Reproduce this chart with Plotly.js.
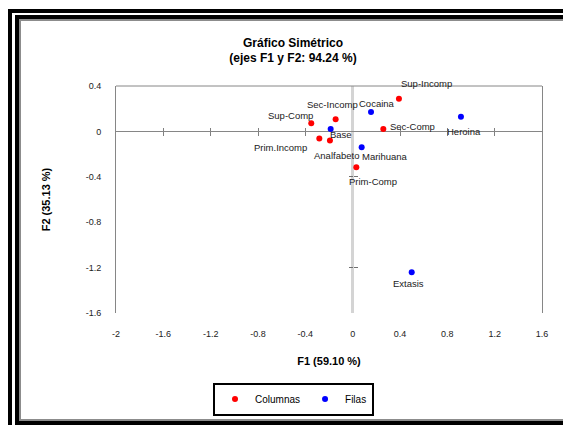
<!DOCTYPE html>
<html>
<head>
<meta charset="utf-8">
<script src="https://cdn.plot.ly/plotly-3.0.1.min.js"></script>
<style>
html,body{margin:0;padding:0;background:#fff;overflow:hidden;width:563px;height:425px;}
#f1{position:absolute;left:8px;top:9px;width:1000px;height:1000px;border-left:4px solid #000;border-top:4px solid #000;}
#f2{position:absolute;left:15px;top:15px;width:1000px;height:402px;border-left:4px solid #000;border-top:4px solid #000;border-bottom:4px solid #000;}
#f3{position:absolute;left:19px;top:19px;width:1000px;height:398px;border-left:2px solid #8c8c8c;border-top:2px solid #8c8c8c;border-bottom:2px solid #8c8c8c;}
#chart{position:absolute;left:0;top:0;width:563px;height:425px;}
</style>
</head>
<body>
<div id="f1"></div>
<div id="f2"></div>
<div id="f3"></div>
<div id="chart"></div>
<script>
// ---- Data ----
var colLabels = ['Sup-Incomp','Sec-Incomp','Sup-Comp','Sec-Comp','Prim.Incomp','Analfabeto','Prim-Comp'];
var colF1 = [0.391, -0.144, -0.350, 0.259, -0.282, -0.192, 0.031];
var colF2 = [0.287, 0.108, 0.072, 0.022, -0.063, -0.081, -0.316];

var rowLabels = ['Cocaina','Base','Heroina','Marihuana','Extasis'];
var rowF1 = [0.155, -0.186, 0.915, 0.076, 0.499];
var rowF2 = [0.172, 0.022, 0.128, -0.139, -1.242];

var xTickVals = [-2, -1.6, -1.2, -0.8, -0.4, 0, 0.4, 0.8, 1.2, 1.6];
var xTickText = ['-2','-1.6','-1.2','-0.8','-0.4','0','0.4','0.8','1.2','1.6'];
var yTickVals = [0.4, 0, -0.4, -0.8, -1.2, -1.6];
var yTickText = ['0.4','0','-0.4','-0.8','-1.2','-1.6'];

// ---- Styles (label offsets in px) ----
var colDx = [28, -3, -20.5, 29, -39, 7, 17];
var colDy = [15, 15, 8, 2, -8.6, -15, -14.4];
var rowDx = [6, 10.5, 3, 23, -3];
var rowDy = [8, -6, -14.7, -9.4, -11];

var FONT = 'Liberation Sans, Arial, sans-serif';
var xRange = [-2, 1.6], yRange = [-1.6, 0.4];

var traces = [
  {type:'scatter', mode:'markers', name:'Columnas', x:colF1, y:colF2,
   marker:{color:'#ff0000', size:6}, hoverinfo:'skip'},
  {type:'scatter', mode:'markers', name:'Filas', x:rowF1, y:rowF2,
   marker:{color:'#0000ff', size:6}, hoverinfo:'skip'},
  {type:'scatter', mode:'markers', x:[], y:[], xaxis:'x2', yaxis:'y', showlegend:false, hoverinfo:'skip'},
  {type:'scatter', mode:'markers', x:[], y:[], xaxis:'x3', yaxis:'y', showlegend:false, hoverinfo:'skip'},
  {type:'scatter', mode:'markers', x:[], y:[], xaxis:'x', yaxis:'y2', showlegend:false, hoverinfo:'skip'},
  {type:'scatter', mode:'markers', x:[], y:[], xaxis:'x', yaxis:'y3', showlegend:false, hoverinfo:'skip'}
];

var annotations = [];
function addLabels(labels, xs, ys, dx, dy) {
  for (var i = 0; i < labels.length; i++) {
    annotations.push({x:xs[i], y:ys[i], xref:'x', yref:'y', text:labels[i], showarrow:false,
      xanchor:'center', yanchor:'middle', xshift:dx[i], yshift:dy[i],
      font:{family:FONT, size:9.5, color:'#1a1a1a'}});
  }
}
addLabels(colLabels, colF1, colF2, colDx, colDy);
addLabels(rowLabels, rowF1, rowF2, rowDx, rowDy);

var zeroYFrac = (0 - yRange[0]) / (yRange[1] - yRange[0]);
var zeroXFrac = (0 - xRange[0]) / (xRange[1] - xRange[0]);
var xCrossTicks = xTickVals.filter(function(v){ return v !== 0 && v !== xRange[0] && v !== xRange[1]; });
var yCrossTicks = [yTickVals[2], yTickVals[4]];

function overlayX(side) {
  return {overlaying:'x', anchor:'free', position:zeroYFrac, range:xRange, tickvals:xCrossTicks,
    ticks:side, ticklen:3.5, tickcolor:'#808080', tickwidth:1, showticklabels:false,
    showline:false, showgrid:false, zeroline:false, fixedrange:true};
}
function overlayY(side) {
  return {overlaying:'y', anchor:'free', position:zeroXFrac, range:yRange, tickvals:yCrossTicks,
    ticks:side, ticklen:4, tickcolor:'#707070', tickwidth:1, showticklabels:false,
    showline:false, showgrid:false, zeroline:false, fixedrange:true};
}

var layout = {
  width:563, height:425,
  margin:{l:116, r:21, t:86, b:112},
  paper_bgcolor:'rgba(0,0,0,0)', plot_bgcolor:'rgba(0,0,0,0)',
  font:{family:FONT, size:9, color:'#222'},
  showlegend:true,
  title:{text:'<b>Gráfico Simétrico</b><br><b>(ejes F1 y F2: 94.24 %)</b>',
    font:{family:FONT, size:12, color:'#000'},
    xref:'container', x:293/563, xanchor:'center',
    yref:'container', y:1 - 46.5/425, yanchor:'middle'},
  xaxis:{range:xRange, tickvals:xTickVals, ticktext:xTickText, ticks:'', showgrid:false,
    zeroline:true, zerolinecolor:'#d4d4d4', zerolinewidth:2.5, showline:false,
    ticklabelstandoff:14, tickfont:{family:FONT, size:9, color:'#222'},
    title:{text:'<b>F1 (59.10 %)</b>', font:{family:FONT, size:11, color:'#000'}, standoff:19},
    fixedrange:true, automargin:false},
  yaxis:{range:yRange, tickvals:yTickVals, ticktext:yTickText, ticks:'', showgrid:false,
    zeroline:true, zerolinecolor:'#868686', zerolinewidth:1,
    showline:true, mirror:true, linecolor:'#868686', linewidth:1,
    ticklabelstandoff:12, tickfont:{family:FONT, size:9, color:'#222'},
    title:{text:'<b>F2 (35.13 %)</b>', font:{family:FONT, size:11, color:'#000'}, standoff:32},
    fixedrange:true, automargin:false},
  xaxis2: overlayX('outside'),
  xaxis3: overlayX('inside'),
  yaxis2: overlayY('outside'),
  yaxis3: overlayY('inside'),
  shapes:[{type:'line', xref:'paper', yref:'paper', x0:0, x1:1, y0:1, y1:1,
    line:{color:'#868686', width:1}}],
  annotations: annotations,
  legend:{orientation:'h', xref:'container', x:293.5/563, xanchor:'center',
    yref:'container', y:1 - 399/425, yanchor:'middle',
    bordercolor:'#000', borderwidth:2, bgcolor:'#fff',
    font:{family:FONT, size:10, color:'#000'}, itemwidth:30, tracegroupgap:0}
};

Plotly.newPlot('chart', traces, layout, {staticPlot:true, displayModeBar:false});
</script>
</body>
</html>
